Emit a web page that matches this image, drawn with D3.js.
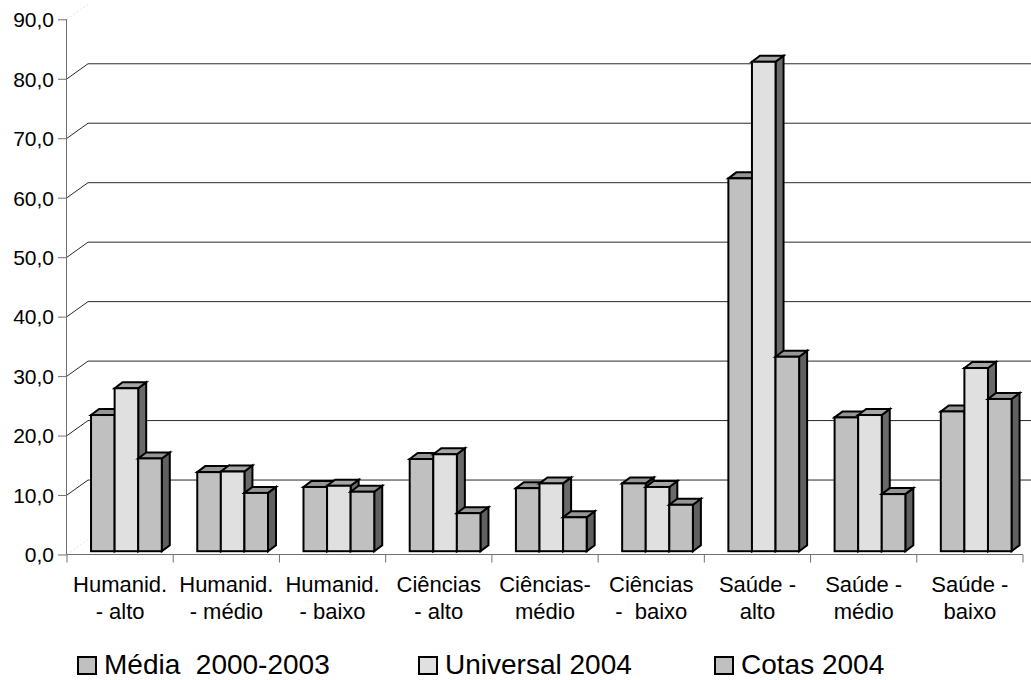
<!DOCTYPE html>
<html>
<head>
<meta charset="utf-8">
<script src="https://cdn.jsdelivr.net/npm/d3@7"></script>
<style>
  html, body { margin: 0; padding: 0; background: #fff; }
  svg { display: block; font-family: "Liberation Sans", Arial, sans-serif; }
  text { white-space: pre; }
</style>
</head>
<body>
<svg id="chart" width="1031" height="680"></svg>
<script>
// Category labels (two lines each)
const categories = [
  ["Humanid.", "- alto"],
  ["Humanid.", "- médio"],
  ["Humanid.", "- baixo"],
  ["Ciências", "- alto"],
  ["Ciências-", "médio"],
  ["Ciências", "-  baixo"],
  ["Saúde -", "alto"],
  ["Saúde -", "médio"],
  ["Saúde -", "baixo"]
];
const seriesNames = ["Média  2000-2003", "Universal 2004", "Cotas 2004"];
const media2000_2003 = [22.9, 13.3, 10.8, 15.5, 10.6, 11.4, 62.7, 22.5, 23.5];
const universal2004  = [27.4, 13.4, 11.0, 16.3, 11.4, 10.8, 82.3, 22.9, 30.8];
const cotas2004      = [15.6,  9.8, 10.0,  6.4,  5.7,  7.8, 32.7,  9.6, 25.6];
const yTicks = [0, 10, 20, 30, 40, 50, 60, 70, 80, 90];

const seriesValues = [media2000_2003, universal2004, cotas2004];
const frontFill = ["#c0c0c0", "#e0e0e0", "#c0c0c0"];
const topFill   = ["#969696", "#a6a6a6", "#969696"];
const sideFill  = ["#606060", "#6a6a6a", "#606060"];

const svg = d3.select("#chart");

// Plot frame
const plotLeft = 67, plotRight = 1023, plotTop = 19.3, plotBottom = 554.5;
// 3D wall depth offset and bar offsets
const wallDx = 21, wallDy = -15;
const barFrontDx = 4.6, barFrontDy = -3.3;
const barDepthDx = 8, barDepthDy = -6;

const catKeys = categories.map((d, i) => i);
const x = d3.scaleBand().domain(catKeys).range([plotLeft, plotRight]).padding(0);
const xs = d3.scaleBand().domain(d3.range(seriesNames.length))
  .range([x.bandwidth() * 0.183, x.bandwidth() * 0.849]).padding(0);
const y = d3.scaleLinear().domain([0, 90]).range([plotBottom, plotTop]);

// Back-wall gridlines with diagonal connectors to the axis
const gridTicks = yTicks.filter(t => t > 0 && t < 90);
svg.append("g").selectAll("line").data(gridTicks).join("line")
  .attr("x1", plotLeft + wallDx).attr("x2", 1031 + 20)
  .attr("y1", d => y(d) + wallDy).attr("y2", d => y(d) + wallDy)
  .attr("stroke", "#2a2a2a").attr("stroke-width", 1);
svg.append("g").selectAll("line").data(gridTicks).join("line")
  .attr("x1", plotLeft).attr("x2", plotLeft + wallDx)
  .attr("y1", d => y(d)).attr("y2", d => y(d) + wallDy)
  .attr("stroke", "#2a2a2a").attr("stroke-width", 1);
// faint edges at top and floor
svg.append("g").selectAll("line").data([0, 90]).join("line")
  .attr("x1", plotLeft).attr("x2", plotLeft + wallDx)
  .attr("y1", d => y(d)).attr("y2", d => y(d) + wallDy)
  .attr("stroke", "#e6e6e6").attr("stroke-width", 1)
  .attr("stroke-dasharray", "2,2");

// Y axis
const yAxis = d3.axisLeft(y).tickValues(yTicks).tickSize(9).tickPadding(4)
  .tickFormat(d => d3.format(".1f")(d).replace(".", ","));
const gy = svg.append("g").attr("transform", `translate(${plotLeft},0)`).call(yAxis);
gy.select(".domain").attr("stroke", "#707070").attr("d", `M-0.5,${plotTop}V${plotBottom}`);
gy.selectAll(".tick line").attr("stroke", "#707070");
gy.selectAll(".tick text").attr("font-size", 21).attr("fill", "#000")
  .attr("font-family", "Liberation Sans, Arial, sans-serif")
  .attr("dy", "0.35em");

// X axis with tick marks at category boundaries
svg.append("line").attr("x1", plotLeft).attr("x2", plotRight)
  .attr("y1", plotBottom).attr("y2", plotBottom)
  .attr("stroke", "#707070").attr("stroke-width", 1);
const boundaries = catKeys.map(k => x(k)).concat([x(catKeys[catKeys.length - 1]) + x.bandwidth()]);
svg.append("g").selectAll("line").data(boundaries).join("line")
  .attr("x1", d => d).attr("x2", d => d)
  .attr("y1", plotBottom).attr("y2", plotBottom + 8)
  .attr("stroke", "#707070").attr("stroke-width", 1);

// Bars drawn as 3D prisms (front, top, side), left to right
const bars = [];
catKeys.forEach(ci => {
  seriesValues.forEach((vals, si) => {
    bars.push({ ci, si, v: vals[ci] });
  });
});
const gBars = svg.append("g");
bars.forEach(b => {
  const x0 = x(b.ci) + xs(b.si) + barFrontDx;
  const w = xs.bandwidth();
  const yb = y(0) + barFrontDy;
  const yt = y(b.v) + barFrontDy;
  const g = gBars.append("g")
    .attr("stroke", "#000").attr("stroke-width", 2).attr("stroke-linejoin", "miter");
  g.append("polygon")
    .attr("points", [[x0 + w, yt], [x0 + w + barDepthDx, yt + barDepthDy],
                     [x0 + w + barDepthDx, yb + barDepthDy], [x0 + w, yb]].join(" "))
    .attr("fill", sideFill[b.si]);
  g.append("polygon")
    .attr("points", [[x0, yt], [x0 + barDepthDx, yt + barDepthDy],
                     [x0 + w + barDepthDx, yt + barDepthDy], [x0 + w, yt]].join(" "))
    .attr("fill", topFill[b.si]);
  g.append("rect")
    .attr("x", x0).attr("y", yt).attr("width", w).attr("height", yb - yt)
    .attr("fill", frontFill[b.si]);
});

// Category labels
const gx = svg.append("g");
categories.forEach((lines, i) => {
  const cx = x(i) + x.bandwidth() / 2;
  lines.forEach((ln, li) => {
    gx.append("text")
      .attr("x", cx).attr("y", 591.7 + li * 27.6)
      .attr("text-anchor", "middle").attr("font-size", 22)
      .attr("fill", "#000").text(ln);
  });
});

// Legend
const legendX = [77, 418, 714];
const legend = svg.append("g");
seriesNames.forEach((name, i) => {
  legend.append("rect")
    .attr("x", legendX[i] + 1).attr("y", 657).attr("width", 18).attr("height", 17)
    .attr("fill", frontFill[i]).attr("stroke", "#000").attr("stroke-width", 2);
  legend.append("text")
    .attr("x", legendX[i] + 27).attr("y", 673.5)
    .attr("font-size", 28).attr("fill", "#000").text(name);
});
</script>
</body>
</html>
